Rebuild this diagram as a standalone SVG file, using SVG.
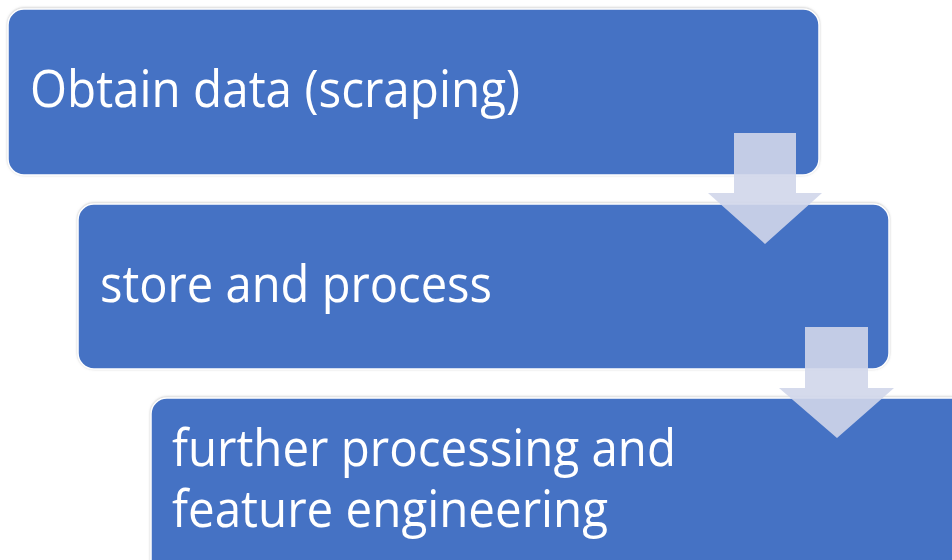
<svg xmlns="http://www.w3.org/2000/svg" width="952" height="560" viewBox="0 0 952 560">
<defs>
<style>
.box{fill:#4472C4;stroke:#FFFFFF;stroke-width:1.5;filter:url(#sh)}
.lbl{fill:#FFFFFF;font-family:"Open Sans","Liberation Sans",sans-serif;font-size:52px}
.arr{fill:#D0D6EA;fill-opacity:0.9}
</style>
<filter id="sh" x="-5%" y="-5%" width="110%" height="110%">
<feDropShadow dx="0" dy="-0.5" stdDeviation="0.8" flood-color="#999999" flood-opacity="0.6"/>
</filter>
</defs>
<rect width="952" height="560" fill="#FFFFFF"/>
<g id="node1">
<rect class="box" x="8" y="9" width="811" height="166" rx="16"/>
<text class="lbl" x="30" y="107" textLength="490" lengthAdjust="spacingAndGlyphs">Obtain data (scraping)</text>
</g>
<g id="node2">
<rect class="box" x="78" y="204" width="811" height="165" rx="16"/>
<text class="lbl" x="100" y="302" textLength="392" lengthAdjust="spacingAndGlyphs">store and process</text>
</g>
<g id="node3">
<rect class="box" x="151" y="398" width="830" height="190" rx="16"/>
<text class="lbl" x="172" y="466" textLength="504" lengthAdjust="spacingAndGlyphs">further processing and</text>
<text class="lbl" x="172" y="527" textLength="436" lengthAdjust="spacingAndGlyphs">feature engineering</text>
</g>
<g id="connectors">
<polygon class="arr" points="734,133 796,133 796,193 822,193 765,244 708,193 734,193"/>
<polygon class="arr" points="805,327 868,327 868,388 894,388 837,438 779,388 805,388"/>
</g>
</svg>
